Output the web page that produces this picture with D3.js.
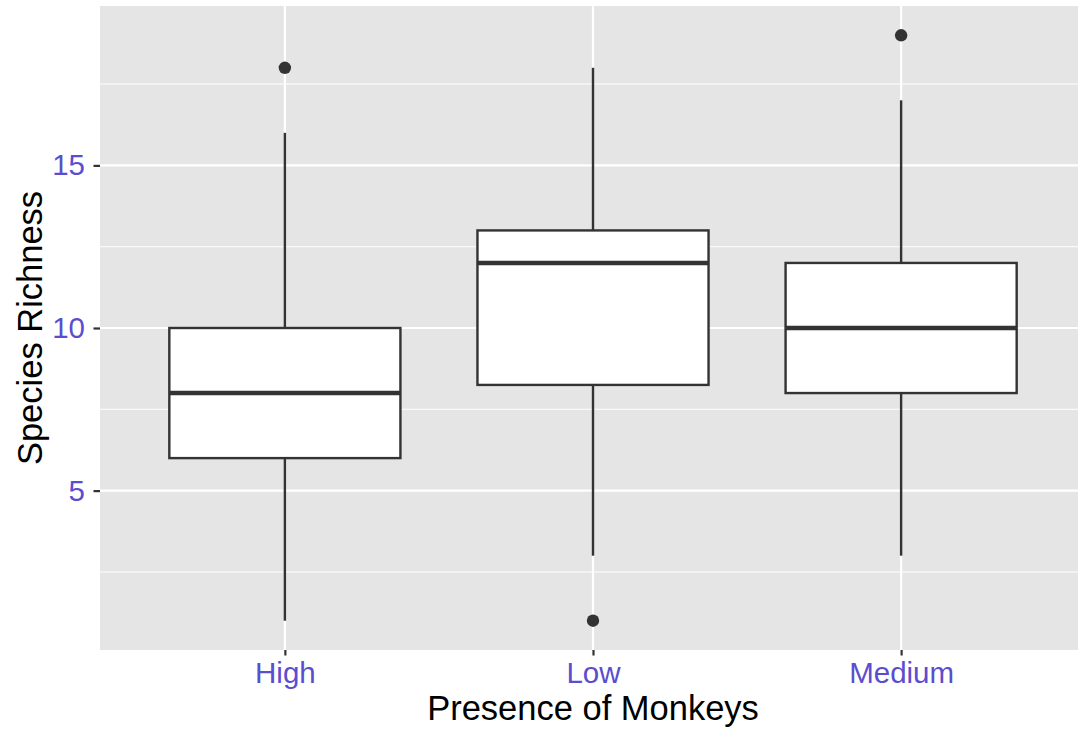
<!DOCTYPE html>
<html>
<head>
<meta charset="utf-8">
<script src="https://cdn.jsdelivr.net/npm/d3@7"></script>
<style>
  body { margin: 0; background: #fff; }
  svg { display: block; font-family: "Liberation Sans", Arial, sans-serif; }
</style>
</head>
<body>
<svg id="chart" width="1078" height="729"></svg>
<script>
// box statistics
const categories = ['High', 'Low', 'Medium'];
const lowerWhisker = [1, 3, 3];
const q1 = [6, 8.25, 8];
const median = [8, 12, 10];
const q3 = [10, 13, 12];
const upperWhisker = [16, 18, 17];
const outliers = [[18], [1], [19]];
const yTicks = [5, 10, 15];
const yMinor = [2.5, 7.5, 12.5, 17.5];

const svg = d3.select('#chart');

const panel = { left: 100, top: 6, right: 1086, bottom: 650 };
const labelColor = '#5b4dcf';
const lineColor = '#333333';

const x = d3.scalePoint()
    .domain(categories)
    .range([panel.left, panel.right])
    .padding(0.6);

const y = d3.scaleLinear()
    .domain([0.1, 19.9])
    .range([panel.bottom, panel.top]);

const boxWidth = x.step() * 0.75;

const boxes = categories.map((c, i) => ({
    name: c,
    lo: lowerWhisker[i],
    q1: q1[i],
    med: median[i],
    q3: q3[i],
    hi: upperWhisker[i],
    out: outliers[i]
}));

// panel + grid
svg.append('rect')
    .attr('x', panel.left)
    .attr('y', panel.top)
    .attr('width', panel.right - panel.left)
    .attr('height', panel.bottom - panel.top)
    .attr('fill', '#e5e5e5');

svg.selectAll('line.minor')
    .data(yMinor)
    .enter()
    .append('line')
    .attr('class', 'minor')
    .attr('x1', panel.left)
    .attr('x2', panel.right)
    .attr('y1', d => y(d))
    .attr('y2', d => y(d))
    .attr('stroke', '#fff')
    .attr('stroke-width', 1.1);

svg.selectAll('line.major-y')
    .data(yTicks)
    .enter()
    .append('line')
    .attr('class', 'major-y')
    .attr('x1', panel.left)
    .attr('x2', panel.right)
    .attr('y1', d => y(d))
    .attr('y2', d => y(d))
    .attr('stroke', '#fff')
    .attr('stroke-width', 2.2);

svg.selectAll('line.major-x')
    .data(categories)
    .enter()
    .append('line')
    .attr('class', 'major-x')
    .attr('x1', d => x(d))
    .attr('x2', d => x(d))
    .attr('y1', panel.top)
    .attr('y2', panel.bottom)
    .attr('stroke', '#fff')
    .attr('stroke-width', 2.2);

// boxplots
const g = svg.selectAll('g.box')
    .data(boxes)
    .enter()
    .append('g')
    .attr('class', 'box');

g.append('line')
    .attr('x1', d => x(d.name))
    .attr('x2', d => x(d.name))
    .attr('y1', d => y(d.hi))
    .attr('y2', d => y(d.q3))
    .attr('stroke', lineColor)
    .attr('stroke-width', 2.4);

g.append('line')
    .attr('x1', d => x(d.name))
    .attr('x2', d => x(d.name))
    .attr('y1', d => y(d.q1))
    .attr('y2', d => y(d.lo))
    .attr('stroke', lineColor)
    .attr('stroke-width', 2.4);

g.append('rect')
    .attr('x', d => x(d.name) - boxWidth / 2)
    .attr('width', boxWidth)
    .attr('y', d => y(d.q3))
    .attr('height', d => y(d.q1) - y(d.q3))
    .attr('fill', '#fff')
    .attr('stroke', lineColor)
    .attr('stroke-width', 2.4);

g.append('line')
    .attr('x1', d => x(d.name) - boxWidth / 2)
    .attr('x2', d => x(d.name) + boxWidth / 2)
    .attr('y1', d => y(d.med))
    .attr('y2', d => y(d.med))
    .attr('stroke', lineColor)
    .attr('stroke-width', 4.5);

g.selectAll('circle')
    .data(d => d.out.map(v => ({ name: d.name, v })))
    .enter()
    .append('circle')
    .attr('cx', d => x(d.name))
    .attr('cy', d => y(d.v))
    .attr('r', 6.2)
    .attr('fill', lineColor);

// axes
const xAxis = svg.append('g')
    .attr('transform', `translate(0,${panel.bottom})`)
    .call(d3.axisBottom(x).tickSize(5.5).tickPadding(6.5));

const yAxis = svg.append('g')
    .attr('transform', `translate(${panel.left},0)`)
    .call(d3.axisLeft(y).tickValues(yTicks).tickSize(6.5).tickPadding(8.5));

[xAxis, yAxis].forEach(a => {
    a.select('.domain').remove();
    a.selectAll('.tick line').attr('stroke', lineColor).attr('stroke-width', 2.2);
    a.selectAll('.tick text')
        .attr('fill', labelColor)
        .style('font-size', '29.5px')
        .style('font-family', '"Liberation Sans", Arial, sans-serif');
});
xAxis.selectAll('.tick text').attr('dy', '0.71em');

svg.append('text')
    .attr('x', (panel.left + panel.right) / 2)
    .attr('y', 720)
    .attr('text-anchor', 'middle')
    .attr('fill', '#000')
    .style('font-size', '34.5px')
    .text('Presence of Monkeys');

svg.append('text')
    .attr('transform', `translate(42,${(panel.top + panel.bottom) / 2}) rotate(-90)`)
    .attr('text-anchor', 'middle')
    .attr('fill', '#000')
    .style('font-size', '34.5px')
    .text('Species Richness');
</script>
</body>
</html>
